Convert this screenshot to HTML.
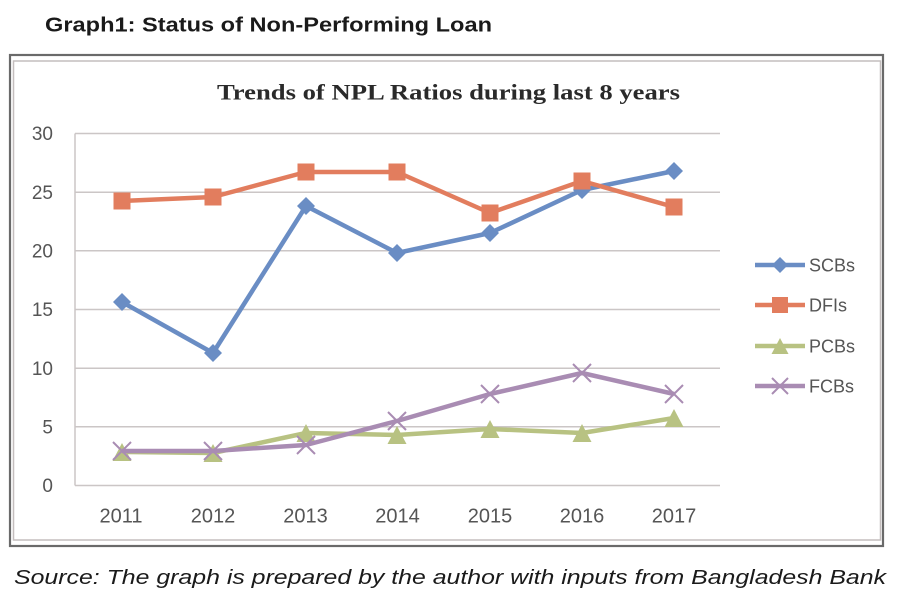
<!DOCTYPE html>
<html>
<head>
<meta charset="utf-8">
<style>
html,body{margin:0;padding:0;background:#fff;}
svg{display:block;}
</style>
</head>
<body>
<svg width="900" height="600" viewBox="0 0 900 600" xmlns="http://www.w3.org/2000/svg">
<rect width="900" height="600" fill="#fff"/>
<!-- Header -->
<text x="45" y="31.5" font-family="Liberation Sans, sans-serif" font-weight="bold" font-size="20.5" fill="#1a1a1a" textLength="447" lengthAdjust="spacingAndGlyphs">Graph1: Status of Non-Performing Loan</text>

<!-- Frame -->
<rect x="10" y="55" width="873" height="491" fill="none" stroke="#6a6a6a" stroke-width="2.2"/>
<rect x="13.5" y="61" width="867" height="479" fill="none" stroke="#c4bebe" stroke-width="1.5"/>

<!-- Chart title -->
<text x="217" y="99.5" font-family="Liberation Serif, serif" font-weight="bold" font-size="22" fill="#2a2a2a" textLength="463" lengthAdjust="spacingAndGlyphs">Trends of NPL Ratios during last 8 years</text>

<!-- Gridlines -->
<g stroke="#cbc6c6" stroke-width="1.5">
<line x1="75" y1="133.5" x2="720" y2="133.5"/>
<line x1="75" y1="192.2" x2="720" y2="192.2"/>
<line x1="75" y1="250.8" x2="720" y2="250.8"/>
<line x1="75" y1="309.5" x2="720" y2="309.5"/>
<line x1="75" y1="368.2" x2="720" y2="368.2"/>
<line x1="75" y1="426.8" x2="720" y2="426.8"/>
<line x1="75" y1="485.5" x2="720" y2="485.5"/>
<line x1="75" y1="133.5" x2="75" y2="485.5"/>
</g>

<!-- Y labels -->
<g font-family="Liberation Sans, sans-serif" font-size="19" fill="#555" text-anchor="end">
<text x="53" y="140">30</text>
<text x="53" y="199">25</text>
<text x="53" y="257.5">20</text>
<text x="53" y="316">15</text>
<text x="53" y="375">10</text>
<text x="53" y="433.5">5</text>
<text x="53" y="492">0</text>
</g>

<!-- X labels -->
<g font-family="Liberation Sans, sans-serif" font-size="20" fill="#555" text-anchor="middle">
<text x="121" y="522.5">2011</text>
<text x="213" y="522.5">2012</text>
<text x="305.5" y="522.5">2013</text>
<text x="397.5" y="522.5">2014</text>
<text x="490" y="522.5">2015</text>
<text x="582" y="522.5">2016</text>
<text x="674" y="522.5">2017</text>
</g>

<!-- SCBs -->
<polyline points="122,302 213,353 306,206 397,253 490,233 582,190 674,171" fill="none" stroke="#6a8dc4" stroke-width="4.5" stroke-linejoin="round"/>
<g fill="#6a8dc4">
<polygon points="122,293 131,302 122,311 113,302"/>
<polygon points="213,344 222,353 213,362 204,353"/>
<polygon points="306,197 315,206 306,215 297,206"/>
<polygon points="397,244 406,253 397,262 388,253"/>
<polygon points="490,224 499,233 490,242 481,233"/>
<polygon points="582,181 591,190 582,199 573,190"/>
<polygon points="674,162 683,171 674,180 665,171"/>
</g>

<!-- DFIs -->
<polyline points="122,201 213,197 306,172 397,172 490,213 582,181 674,207" fill="none" stroke="#e27d5e" stroke-width="4.5" stroke-linejoin="round"/>
<g fill="#e27d5e">
<rect x="113.5" y="192.5" width="17" height="17"/>
<rect x="204.5" y="188.5" width="17" height="17"/>
<rect x="297.5" y="163.5" width="17" height="17"/>
<rect x="388.5" y="163.5" width="17" height="17"/>
<rect x="481.5" y="204.5" width="17" height="17"/>
<rect x="573.5" y="172.5" width="17" height="17"/>
<rect x="665.5" y="198.5" width="17" height="17"/>
</g>

<!-- PCBs -->
<polyline points="122,452 213,453 306,433 397,435 490,429 582,433 674,418" fill="none" stroke="#b8c282" stroke-width="4.5" stroke-linejoin="round"/>
<g fill="#b8c282">
<polygon points="122,443 131.5,461 112.5,461"/>
<polygon points="213,444 222.5,462 203.5,462"/>
<polygon points="306,424 315.5,442 296.5,442"/>
<polygon points="397,426 406.5,444 387.5,444"/>
<polygon points="490,420 499.5,438 480.5,438"/>
<polygon points="582,424 591.5,442 572.5,442"/>
<polygon points="674,409 683.5,427 664.5,427"/>
</g>

<!-- FCBs -->
<polyline points="122,451 213,451 306,445 397,421 490,394 582,373 674,394" fill="none" stroke="#a98cb3" stroke-width="4.5" stroke-linejoin="round"/>
<g stroke="#a98cb3" stroke-width="2">
<path d="M113,442 L131,460 M131,442 L113,460"/>
<path d="M204,442 L222,460 M222,442 L204,460"/>
<path d="M297,436 L315,454 M315,436 L297,454"/>
<path d="M388,412 L406,430 M406,412 L388,430"/>
<path d="M481,385 L499,403 M499,385 L481,403"/>
<path d="M573,364 L591,382 M591,364 L573,382"/>
<path d="M665,385 L683,403 M683,385 L665,403"/>
</g>

<!-- Legend -->
<g font-family="Liberation Sans, sans-serif" font-size="18" fill="#555">
<line x1="755" y1="265" x2="805" y2="265" stroke="#6a8dc4" stroke-width="4.5"/>
<polygon points="780,257 788,265 780,273 772,265" fill="#6a8dc4"/>
<text x="809" y="271.5">SCBs</text>

<line x1="755" y1="305" x2="805" y2="305" stroke="#e27d5e" stroke-width="4.5"/>
<rect x="772" y="297" width="16" height="16" fill="#e27d5e"/>
<text x="809" y="311.5">DFIs</text>

<line x1="755" y1="346" x2="805" y2="346" stroke="#b8c282" stroke-width="4.5"/>
<polygon points="780,338 788.5,354 771.5,354" fill="#b8c282"/>
<text x="809" y="352.5">PCBs</text>

<line x1="755" y1="386" x2="805" y2="386" stroke="#a98cb3" stroke-width="4.5"/>
<path d="M772,378 L788,394 M788,378 L772,394" stroke="#a98cb3" stroke-width="2"/>
<text x="809" y="392.5">FCBs</text>
</g>

<!-- Source -->
<text x="14" y="584" font-family="Liberation Sans, sans-serif" font-style="italic" font-size="20.5" fill="#1a1a1a" textLength="872" lengthAdjust="spacingAndGlyphs">Source: The graph is prepared by the author with inputs from Bangladesh Bank</text>
</svg>
</body>
</html>
